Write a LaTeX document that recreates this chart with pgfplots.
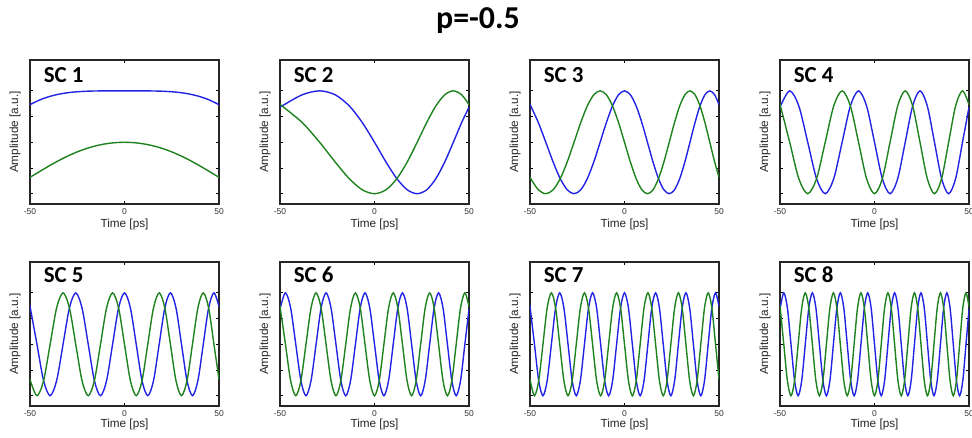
\documentclass[border=0pt]{standalone}
\usepackage{pgfplots}
\pgfplotsset{compat=1.18}
\usepackage{pgfplotstable}
\usepackage{fontspec}
\setmainfont{Liberation Sans}
\newfontfamily\carlito{Carlito}
\definecolor{mblue}{RGB}{35,35,228}
\definecolor{mgreen}{RGB}{30,130,30}

\pgfplotstableread{
t b g
-50 0.7317 -0.6816
-45 0.8211 -0.5708
-40 0.8870 -0.4618
-35 0.9332 -0.3593
-30 0.9638 -0.2667
-25 0.9825 -0.1864
-20 0.9928 -0.1197
-15 0.9977 -0.0675
-10 0.9996 -0.0300
-5 1.0000 -0.0075
0 1 0
5 1.0000 -0.0075
10 0.9996 -0.0300
15 0.9977 -0.0675
20 0.9928 -0.1197
25 0.9825 -0.1864
30 0.9638 -0.2667
35 0.9332 -0.3593
40 0.8870 -0.4618
45 0.8211 -0.5708
50 0.7317 -0.6816
}\scA

\pgfplotstableread{
t b g
-50 0.6816 0.7317
-48.932 0.7071 0.7071
-38.227 0.9239 0.3827
-29.021 1 0
-20.820 0.9239 -0.3827
-13.351 0.7071 -0.7071
-6.449 0.3827 -0.9239
0 0 -1
6.074 -0.3827 -0.9239
11.832 -0.7071 -0.7071
17.318 -0.9239 -0.3827
22.568 -1 0
27.610 -0.9239 0.3827
32.467 -0.7071 0.7071
37.158 -0.3827 0.9239
41.698 0 1
46.102 0.3827 0.9239
50 0.6816 0.7317
}\scB

\pgfplotstableread{
t b g
-50 0.7317 -0.6816
-49.630 0.7071 -0.7071
-45.586 0.3827 -0.9239
-41.639 0 -1
-37.783 -0.3827 -0.9239
-34.012 -0.7071 -0.7071
-30.320 -0.9239 -0.3827
-26.702 -1 0
-23.155 -0.9239 0.3827
-19.674 -0.7071 0.7071
-16.256 -0.3827 0.9239
-12.897 0 1
-9.595 0.3827 0.9239
-6.346 0.7071 0.7071
-3.149 0.9239 0.3827
0 1 0
3.102 0.9239 -0.3827
6.159 0.7071 -0.7071
9.174 0.3827 -0.9239
12.148 0 -1
15.082 -0.3827 -0.9239
17.978 -0.7071 -0.7071
20.838 -0.9239 -0.3827
23.663 -1 0
26.454 -0.9239 0.3827
29.213 -0.7071 0.7071
31.940 -0.3827 0.9239
34.636 0 1
37.303 0.3827 0.9239
39.942 0.7071 0.7071
42.552 0.9239 0.3827
45.136 1 0
47.695 0.9239 -0.3827
50 0.7317 -0.6816
}\scC

\pgfplotstableread{
t b g
-50 0.6816 0.7317
-49.777 0.7071 0.7071
-44.871 1 0
-40.053 0.7071 -0.7071
-35.319 0 -1
-30.663 -0.7071 -0.7071
-26.083 -1 0
-21.574 -0.7071 0.7071
-17.134 0 1
-12.759 0.7071 0.7071
-8.447 1 0
-4.195 0.7071 -0.7071
0 0 -1
4.139 -0.7071 -0.7071
8.226 -1 0
12.261 -0.7071 0.7071
16.247 0 1
20.185 0.7071 0.7071
24.077 1 0
27.926 0.7071 -0.7071
31.731 0 -1
35.495 -0.7071 -0.7071
39.219 -1 0
42.904 -0.7071 0.7071
46.551 0 1
50 0.6816 0.7317
}\scD

\pgfplotstableread{
t b g
-50 0.7317 -0.6816
-49.840 0.7071 -0.7071
-46.310 0 -1
-42.813 -0.7071 -0.7071
-39.348 -1 0
-35.915 -0.7071 0.7071
-32.512 0 1
-29.138 0.7071 0.7071
-25.794 1 0
-22.478 0.7071 -0.7071
-19.190 0 -1
-15.928 -0.7071 -0.7071
-12.692 -1 0
-9.482 -0.7071 0.7071
-6.297 0 1
-3.137 0.7071 0.7071
0 1 0
3.113 0.7071 -0.7071
6.204 0 -1
9.272 -0.7071 -0.7071
12.319 -1 0
15.344 -0.7071 0.7071
18.348 0 1
21.332 0.7071 0.7071
24.295 1 0
27.239 0.7071 -0.7071
30.164 0 -1
33.070 -0.7071 -0.7071
35.957 -1 0
38.826 -0.7071 0.7071
41.677 0 1
44.510 0.7071 0.7071
47.326 1 0
50 0.7317 -0.6816
}\scE

\pgfplotstableread{
t b g
-50 0.6816 0.7317
-49.875 0.7071 0.7071
-47.120 1 0
-44.381 0.7071 -0.7071
-41.657 0 -1
-38.949 -0.7071 -0.7071
-36.255 -1 0
-33.577 -0.7071 0.7071
-30.913 0 1
-28.263 0.7071 0.7071
-25.627 1 0
-23.005 0.7071 -0.7071
-20.397 0 -1
-17.803 -0.7071 -0.7071
-15.221 -1 0
-12.653 -0.7071 0.7071
-10.097 0 1
-7.554 0.7071 0.7071
-5.024 1 0
-2.506 0.7071 -0.7071
0 0 -1
2.494 -0.7071 -0.7071
4.976 -1 0
7.447 -0.7071 0.7071
9.906 0 1
12.354 0.7071 0.7071
14.791 1 0
17.217 0.7071 -0.7071
19.632 0 -1
22.036 -0.7071 -0.7071
24.430 -1 0
26.813 -0.7071 0.7071
29.187 0 1
31.549 0.7071 0.7071
33.902 1 0
36.245 0.7071 -0.7071
38.579 0 -1
40.902 -0.7071 -0.7071
43.217 -1 0
45.521 -0.7071 0.7071
47.816 0 1
50 0.6816 0.7317
}\scF

\pgfplotstableread{
t b g
-50 0.7317 -0.6816
-49.898 0.7071 -0.7071
-47.639 0 -1
-45.390 -0.7071 -0.7071
-43.148 -1 0
-40.916 -0.7071 0.7071
-38.691 0 1
-36.475 0.7071 0.7071
-34.268 1 0
-32.068 0.7071 -0.7071
-29.877 0 -1
-27.694 -0.7071 -0.7071
-25.518 -1 0
-23.351 -0.7071 0.7071
-21.191 0 1
-19.038 0.7071 0.7071
-16.894 1 0
-14.757 0.7071 -0.7071
-12.627 0 -1
-10.504 -0.7071 -0.7071
-8.389 -1 0
-6.281 -0.7071 0.7071
-4.181 0 1
-2.087 0.7071 0.7071
0 1 0
2.080 0.7071 -0.7071
4.153 0 -1
6.219 -0.7071 -0.7071
8.279 -1 0
10.332 -0.7071 0.7071
12.378 0 1
14.418 0.7071 0.7071
16.451 1 0
18.478 0.7071 -0.7071
20.499 0 -1
22.513 -0.7071 -0.7071
24.521 -1 0
26.523 -0.7071 0.7071
28.519 0 1
30.509 0.7071 0.7071
32.493 1 0
34.471 0.7071 -0.7071
36.443 0 -1
38.409 -0.7071 -0.7071
40.370 -1 0
42.325 -0.7071 0.7071
44.274 0 1
46.217 0.7071 0.7071
48.155 1 0
50 0.7317 -0.6816
}\scG

\pgfplotstableread{
t b g
-50 0.6816 0.7317
-49.914 0.7071 0.7071
-48.000 1 0
-46.092 0.7071 -0.7071
-44.189 0 -1
-42.291 -0.7071 -0.7071
-40.399 -1 0
-38.512 -0.7071 0.7071
-36.629 0 1
-34.752 0.7071 0.7071
-32.880 1 0
-31.013 0.7071 -0.7071
-29.151 0 -1
-27.294 -0.7071 -0.7071
-25.442 -1 0
-23.594 -0.7071 0.7071
-21.751 0 1
-19.913 0.7071 0.7071
-18.080 1 0
-16.252 0.7071 -0.7071
-14.428 0 -1
-12.608 -0.7071 -0.7071
-10.794 -1 0
-8.984 -0.7071 0.7071
-7.178 0 1
-5.377 0.7071 0.7071
-3.580 1 0
-1.788 0.7071 -0.7071
0 0 -1
1.784 -0.7071 -0.7071
3.563 -1 0
5.338 -0.7071 0.7071
7.108 0 1
8.875 0.7071 0.7071
10.637 1 0
12.395 0.7071 -0.7071
14.149 0 -1
15.899 -0.7071 -0.7071
17.645 -1 0
19.386 -0.7071 0.7071
21.124 0 1
22.858 0.7071 0.7071
24.588 1 0
26.313 0.7071 -0.7071
28.035 0 -1
29.753 -0.7071 -0.7071
31.467 -1 0
33.178 -0.7071 0.7071
34.884 0 1
36.587 0.7071 0.7071
38.286 1 0
39.981 0.7071 -0.7071
41.673 0 -1
43.360 -0.7071 -0.7071
45.045 -1 0
46.725 -0.7071 0.7071
48.402 0 1
50 0.6816 0.7317
}\scH

\pgfplotsset{
  scstyle/.style={
    scale only axis, width=189bp, height=144bp,
    xmin=-50, xmax=50, ymin=-1.2, ymax=1.6,
    xtick={-50,0,50}, xticklabels={-50,0,50},
    ytick={-1,-0.5,0,0.5,1}, yticklabels={},
    tick align=inside, major tick length=3bp,
    axis line style={line width=1.5bp, black!85},
    every tick/.style={black, line width=0.9bp},
    xticklabel style={font=\fontsize{8.5}{9}\selectfont, yshift=-0.8bp, text=black!80},
    xlabel={Time [ps]}, ylabel={Amplitude [a.u.]},
    label style={font=\fontsize{11.8}{12}\selectfont, text=black!85},
    xlabel style={at={(axis description cs:0.5,0)}, anchor=center, yshift=-20bp},
    ylabel style={at={(axis description cs:-0.079,0.5)}, anchor=center},
  },
  bl/.style={mblue, line width=1.4bp, smooth},
  gr/.style={mgreen, line width=1.4bp, smooth},
}
\newcommand{\sclabel}[2]{\node[anchor=base west, inner sep=0pt, font=\carlito\bfseries\fontsize{23}{23}\selectfont] at (rel axis cs:0.072,#2) {#1};}

\begin{document}
\begin{tikzpicture}
\useasboundingbox (0,0) rectangle (972bp,-438bp);
\node[anchor=base, font=\carlito\bfseries\fontsize{32}{32}\selectfont] at (478bp,-28bp) {p=-0.5};

\begin{axis}[scstyle, at={(30bp,-60bp)}, anchor=north west]
\addplot[bl] table[x=t,y=b]{\scA};
\addplot[gr] table[x=t,y=g]{\scA};
\sclabel{SC 1}{0.845}
\end{axis}
\begin{axis}[scstyle, at={(280bp,-60bp)}, anchor=north west]
\addplot[bl] table[x=t,y=b]{\scB};
\addplot[gr] table[x=t,y=g]{\scB};
\sclabel{SC 2}{0.845}
\end{axis}
\begin{axis}[scstyle, at={(530bp,-60bp)}, anchor=north west]
\addplot[bl] table[x=t,y=b]{\scC};
\addplot[gr] table[x=t,y=g]{\scC};
\sclabel{SC 3}{0.845}
\end{axis}
\begin{axis}[scstyle, at={(780bp,-60bp)}, anchor=north west]
\addplot[bl] table[x=t,y=b]{\scD};
\addplot[gr] table[x=t,y=g]{\scD};
\sclabel{SC 4}{0.845}
\end{axis}

\begin{axis}[scstyle, at={(30bp,-262bp)}, anchor=north west, xlabel style={yshift=2bp}]
\addplot[bl] table[x=t,y=b]{\scE};
\addplot[gr] table[x=t,y=g]{\scE};
\sclabel{SC 5}{0.856}
\end{axis}
\begin{axis}[scstyle, at={(280bp,-262bp)}, anchor=north west, xlabel style={yshift=2bp}]
\addplot[bl] table[x=t,y=b]{\scF};
\addplot[gr] table[x=t,y=g]{\scF};
\sclabel{SC 6}{0.856}
\end{axis}
\begin{axis}[scstyle, at={(530bp,-262bp)}, anchor=north west, xlabel style={yshift=2bp}]
\addplot[bl] table[x=t,y=b]{\scG};
\addplot[gr] table[x=t,y=g]{\scG};
\sclabel{SC 7}{0.856}
\end{axis}
\begin{axis}[scstyle, at={(780bp,-262bp)}, anchor=north west, xlabel style={yshift=2bp}]
\addplot[bl] table[x=t,y=b]{\scH};
\addplot[gr] table[x=t,y=g]{\scH};
\sclabel{SC 8}{0.856}
\end{axis}
\end{tikzpicture}
\end{document}
